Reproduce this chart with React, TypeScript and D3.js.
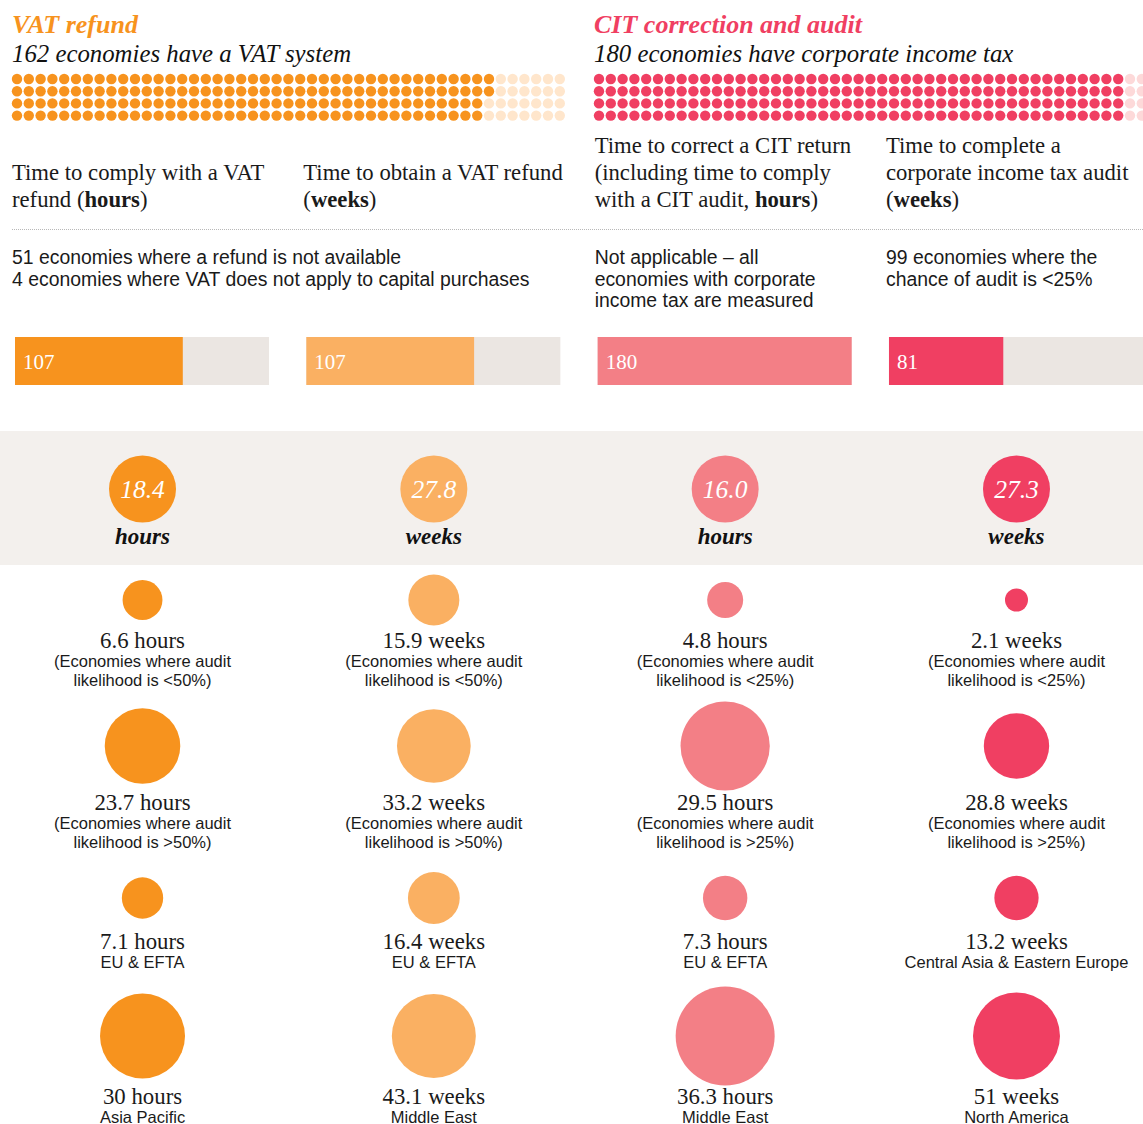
import React, { useEffect } from 'react'
import * as d3 from 'd3'

// ---- data ----
const columnKeys = ['vatHours', 'vatWeeks', 'citHours', 'citWeeks']
const sectionTitles = ['VAT refund', 'CIT correction and audit']
const sectionSubtitles = [
  '162 economies have a VAT system',
  '180 economies have corporate income tax',
]
const sectionCounts = [162, 180]
const dotsShown = 188

const indicatorLines = [
  ['Time to comply with a VAT', 'refund (**hours**)'],
  ['Time to obtain a VAT refund', '(**weeks**)'],
  ['Time to correct a CIT return', '(including time to comply', 'with a CIT audit, **hours**)'],
  ['Time to complete a', 'corporate income tax audit', '(**weeks**)'],
]
const noteLines = [
  ['51 economies where a refund is not available', '4 economies where VAT does not apply to capital purchases'],
  [],
  ['Not applicable – all', 'economies with corporate', 'income tax are measured'],
  ['99 economies where the', 'chance of audit is <25%'],
]

const measuredCounts = [107, 107, 180, 81]
const measuredTotals = [162, 162, 180, 180]
const averages = [18.4, 27.8, 16.0, 27.3]
const units = ['hours', 'weeks', 'hours', 'weeks']

const detailValues = [
  [6.6, 23.7, 7.1, 30],
  [15.9, 33.2, 16.4, 43.1],
  [4.8, 29.5, 7.3, 36.3],
  [2.1, 28.8, 13.2, 51],
]
const detailLabels = [
  [
    ['(Economies where audit', 'likelihood is <50%)'],
    ['(Economies where audit', 'likelihood is >50%)'],
    ['EU & EFTA'],
    ['Asia Pacific'],
  ],
  [
    ['(Economies where audit', 'likelihood is <50%)'],
    ['(Economies where audit', 'likelihood is >50%)'],
    ['EU & EFTA'],
    ['Middle East'],
  ],
  [
    ['(Economies where audit', 'likelihood is <25%)'],
    ['(Economies where audit', 'likelihood is >25%)'],
    ['EU & EFTA'],
    ['Middle East'],
  ],
  [
    ['(Economies where audit', 'likelihood is <25%)'],
    ['(Economies where audit', 'likelihood is >25%)'],
    ['Central Asia & Eastern Europe'],
    ['North America'],
  ],
]

// ---- styling ----
const W = 1143
const H = 1124
const colors = ['#F7931E', '#FAB062', '#F37F86', '#F03F62']
const dotOn = ['#F7931E', '#F03F62']
const dotOff = ['#FFE6CC', '#FDD9D9']
const SERIF = '"Liberation Serif", "DejaVu Serif", serif'
const SANS = '"Liberation Sans", Arial, sans-serif'
const maxRadius = [42.5, 42, 49.5, 43.5]
const minRadius = 11.5
const rowCenters = [600, 746, 898, 1036]
const rowLabelY = [648, 810, 949, 1104]

const richText = (line: string) =>
  line.split(/(\*\*[^*]+\*\*)/).filter(Boolean).map((part, i) =>
    part.startsWith('**') ? (
      <tspan key={i} fontWeight="bold">{part.slice(2, -2)}</tspan>
    ) : (
      <tspan key={i}>{part}</tspan>
    ),
  )

const App: React.FC = () => {
  useEffect(() => {
    document.body.style.margin = '0'
  }, [])

  const x = d3.scaleBand<string>().domain(columnKeys).range([15, W]).paddingInner(0.128)
  const bw = x.bandwidth()
  const centre = (k: string) => (x(k) ?? 0) + bw / 2 + 0.5

  const dotX = [
    d3.scaleLinear().domain([0, 1]).range([17, 28.8]),
    d3.scaleLinear().domain([0, 1]).range([599, 610.8]),
  ]
  const dotY = d3.scaleLinear().domain([0, 1]).range([79, 91.2])
  const sectionX = [12, 594]

  return (
    <svg width={W} height={H} style={{ display: 'block' }}>
      {/* section headers and dot grids */}
      {sectionTitles.map((t, s) => (
        <g key={t}>
          <text x={sectionX[s]} y={33} fontFamily={SERIF} fontStyle="italic" fontWeight="bold" fontSize={26} fill={dotOn[s]}>
            {t}
          </text>
          <text x={sectionX[s]} y={62} fontFamily={SERIF} fontStyle="italic" fontSize={24.8} fill="#111">
            {sectionSubtitles[s]}
          </text>
          {d3.range(dotsShown).map((i) => (
            <circle
              key={i}
              cx={dotX[s](Math.floor(i / 4))}
              cy={dotY(i % 4)}
              r={5.2}
              fill={i < sectionCounts[s] ? dotOn[s] : dotOff[s]}
            />
          ))}
        </g>
      ))}

      {/* indicator titles */}
      {columnKeys.map((k, i) => {
        const lines = indicatorLines[i]
        const x0 = (x(k) ?? 0) - 3
        return (
          <text key={k} fontFamily={SERIF} fontSize={22.7} fill="#1a1a1a">
            {lines.map((l, j) => (
              <tspan key={j} x={x0} y={207 - (lines.length - 1 - j) * 27}>
                {richText(l)}
              </tspan>
            ))}
          </text>
        )
      })}

      <line x1={12} x2={W} y1={229.5} y2={229.5} stroke="#b8b8b8" strokeWidth={1} strokeDasharray="1,1" />

      {/* notes */}
      {columnKeys.map((k, i) => (
        <text key={k} fontFamily={SANS} fontSize={19.4} fill="#1a1a1a">
          {noteLines[i].map((l, j) => (
            <tspan key={j} x={(x(k) ?? 0) - 3} y={264 + j * 21.5}>
              {l}
            </tspan>
          ))}
        </text>
      ))}

      {/* measured economies bars */}
      {columnKeys.map((k, i) => {
        const bx = d3.scaleLinear().domain([0, measuredTotals[i]]).range([0, bw])
        const x0 = x(k) ?? 0
        return (
          <g key={k}>
            <rect x={x0} y={337} width={bw} height={48} fill="#EBE6E2" />
            <rect x={x0} y={337} width={bx(measuredCounts[i])} height={48} fill={colors[i]} />
            <text x={x0 + 8} y={369} fontFamily={SERIF} fontSize={21} fill="#fff">
              {measuredCounts[i]}
            </text>
          </g>
        )
      })}

      {/* averages band */}
      <rect x={0} y={431} width={W} height={134} fill="#F3F0ED" />
      {columnKeys.map((k, i) => {
        const cx = centre(k)
        return (
          <g key={k}>
            <circle cx={cx} cy={489} r={33.5} fill={colors[i]} />
            <text x={cx} y={497.5} textAnchor="middle" fontFamily={SERIF} fontStyle="italic" fontSize={25.5} fill="#fff">
              {averages[i].toFixed(1)}
            </text>
            <text x={cx} y={544} textAnchor="middle" fontFamily={SERIF} fontStyle="italic" fontWeight="bold" fontSize={23} fill="#111">
              {units[i]}
            </text>
          </g>
        )
      })}

      {/* detail circles */}
      {columnKeys.map((k, i) => {
        const cx = centre(k)
        const r = d3.scaleSqrt().domain([0, d3.max(detailValues[i]) ?? 1]).range([0, maxRadius[i]])
        return (
          <g key={k}>
            {detailValues[i].map((v, j) => (
              <g key={j}>
                <circle cx={cx} cy={rowCenters[j]} r={Math.max(r(v), minRadius)} fill={colors[i]} />
                <text x={cx} y={rowLabelY[j]} textAnchor="middle" fontFamily={SERIF} fontSize={22.8} fill="#1a1a1a">
                  {`${v} ${units[i]}`}
                </text>
                {detailLabels[i][j].map((l, n) => (
                  <text key={n} x={cx} y={rowLabelY[j] + 18.5 + n * 19} textAnchor="middle" fontFamily={SANS} fontSize={16.5} fill="#1a1a1a">
                    {l}
                  </text>
                ))}
              </g>
            ))}
          </g>
        )
      })}
    </svg>
  )
}

export default App
